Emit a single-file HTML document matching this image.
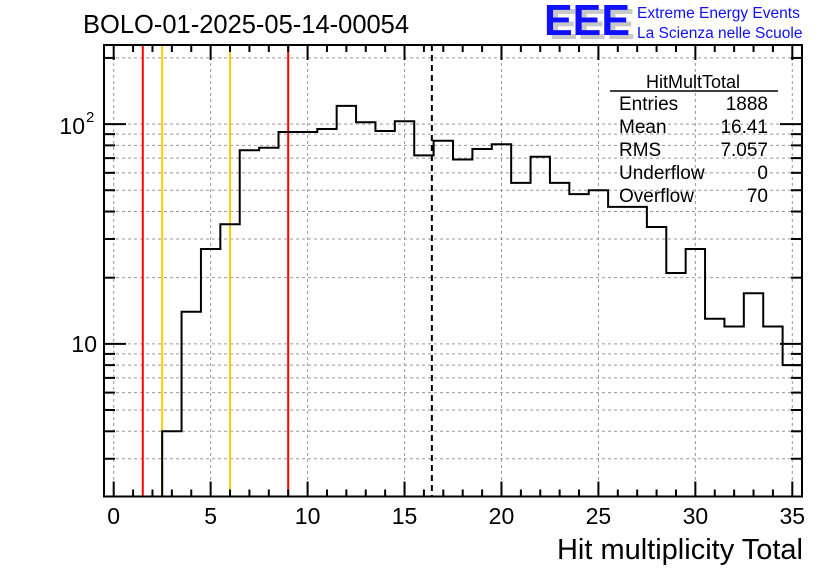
<!DOCTYPE html>
<html><head><meta charset="utf-8"><style>
html,body{margin:0;padding:0;background:#fff;}
svg{display:block;font-family:"Liberation Sans",Arial,sans-serif;}
</style></head><body>
<svg id="chart" width="836" height="572" viewBox="0 0 836 572">
<rect x="0" y="0" width="836" height="572" fill="#fff"/>
<text x="83" y="33" font-size="25.5" fill="#000">BOLO-01-2025-05-14-00054</text>
<g>
<text x="549" y="39" font-size="44" font-weight="bold" fill="#c8c8c8" textLength="86" lengthAdjust="spacingAndGlyphs">EEE</text>
<text x="544" y="35" font-size="44" font-weight="bold" fill="#1010ff" textLength="86" lengthAdjust="spacingAndGlyphs">EEE</text>
<text x="637" y="18" font-size="15.5" fill="#1010ff">Extreme Energy Events</text>
<text x="637" y="38" font-size="15.5" fill="#1010ff">La Scienza nelle Scuole</text>
</g>
<g id="grid"></g>
<g id="marks"></g>
<g id="axes"></g>
<g>
<text x="693" y="88" font-size="18" text-anchor="middle">HitMultTotal</text>
<line x1="610" y1="91" x2="778" y2="91" stroke="#000" stroke-width="1.5"/>
<g font-size="19">
<text x="619" y="110">Entries</text><text x="768" y="110" text-anchor="end">1888</text>
<text x="619" y="133">Mean</text><text x="768" y="133" text-anchor="end">16.41</text>
<text x="619" y="156">RMS</text><text x="768" y="156" text-anchor="end">7.057</text>
<text x="619" y="179">Underflow</text><text x="768" y="179" text-anchor="end">0</text>
<text x="619" y="202">Overflow</text><text x="768" y="202" text-anchor="end">70</text>
</g>
</g>
<text x="803" y="559" font-size="29" text-anchor="end">Hit multiplicity Total</text>
</svg>
<script>
const binCenters = [0,1,2,3,4,5,6,7,8,9,10,11,12,13,14,15,16,17,18,19,20,21,22,23,24,25,26,27,28,29,30,31,32,33,34,35];
const binCounts = [0,0,0,4,14,27,35,76,78,92,92,95,121,102,93,103,72,84,69,77,81,54,71,54,48,50,42,42,34,21,27,13,12,17,12,8];
const xTickValues = [0,5,10,15,20,25,30,35];
const xTickLabels = ["0","5","10","15","20","25","30","35"];
const redLines = [1.5, 9];
const yellowLines = [2.5, 6];
const meanValue = [16.41];

const L=104, R=802, T=45, B=496.5;
const xMin=-0.5, xMax=35.5;
const yLogMin=Math.log10(2.02), yLogMax=Math.log10(229);
function xs(v){return L+(v-xMin)/(xMax-xMin)*(R-L);}
function ys(v){return B-(Math.log10(v)-yLogMin)/(yLogMax-yLogMin)*(B-T);}
const NS="http://www.w3.org/2000/svg";
function mk(tag,attrs,parent){const e=document.createElementNS(NS,tag);for(const k in attrs)e.setAttribute(k,attrs[k]);parent.appendChild(e);return e;}
const grid=document.getElementById('grid'), marks=document.getElementById('marks'), axes=document.getElementById('axes');

const yGridVals=[];
for(const d of [1,10,100]) for(let m=1;m<10;m++){const v=m*d; if(v>=2.02&&v<=229) yGridVals.push(v);}
for(const v of yGridVals){
  const l=mk('line',{x1:L,x2:R,y1:ys(v),y2:ys(v),stroke:'#999','stroke-dasharray':'3,3','stroke-width':1},grid);
  
  
}
for(const v of xTickValues){
  const l=mk('line',{x1:xs(v),x2:xs(v),y1:T,y2:B,stroke:'#999','stroke-dasharray':'3,3','stroke-width':1},grid);
  
  
}
for(const v of redLines){
  const l=mk('line',{x1:xs(v),x2:xs(v),y1:T,y2:B,stroke:'#ff0000','stroke-width':2},marks);
  
  
}
for(const v of yellowLines){
  const l=mk('line',{x1:xs(v),x2:xs(v),y1:T,y2:B,stroke:'#ffcc00','stroke-width':2},marks);
  
  
}
for(const v of meanValue){
  const l=mk('line',{x1:xs(v),x2:xs(v),y1:T,y2:B,stroke:'#000','stroke-width':2,'stroke-dasharray':'6,4'},marks);
  
  
}
let d='';
for(let i=0;i<binCenters.length;i++){
  const c=binCounts[i]; if(c<=0) continue;
  const x0=xs(binCenters[i]-0.5), x1=xs(binCenters[i]+0.5);
  const y=Math.max(T,Math.min(B,ys(c)));
  const prev=i>0?binCounts[i-1]:0;
  const yp=prev>0?Math.max(T,Math.min(B,ys(prev))):B;
  d+=(d===''||prev<=0?`M${x0},${yp}`:'')+`L${x0},${y}L${x1},${y}`;
}
const hist=mk('path',{d:d,fill:'none',stroke:'#000','stroke-width':2},marks);



const fr=mk('rect',{x:L,y:T,width:R-L,height:B-T,fill:'none',stroke:'#000','stroke-width':2},axes);


for(let v=0;v<=35;v++){
  const major=v%5===0, len=major?15:7;
  mk('line',{x1:xs(v),x2:xs(v),y1:B,y2:B-len,stroke:'#000','stroke-width':2},axes);
  mk('line',{x1:xs(v),x2:xs(v),y1:T,y2:T+len,stroke:'#000','stroke-width':2},axes);
}
xTickValues.forEach((v,i)=>{
  const t=mk('text',{x:xs(v),y:524,'font-size':23,'text-anchor':'middle'},axes);
  t.textContent=xTickLabels[i];
  
  
});
for(const v of yGridVals){
  const major=(v===10||v===100), len=major?22:11;
  mk('line',{x1:L,x2:L+len,y1:ys(v),y2:ys(v),stroke:'#000','stroke-width':2},axes);
  mk('line',{x1:R,x2:R-len,y1:ys(v),y2:ys(v),stroke:'#000','stroke-width':2},axes);
}
const t10=mk('text',{x:97,y:ys(10)+8,'font-size':23,'text-anchor':'end'},axes);
t10.textContent='10';


const t100=mk('text',{x:85,y:ys(100)+10,'font-size':23,'text-anchor':'end'},axes);
t100.textContent='10';


const sup=mk('text',{x:86,y:ys(100)-2,'font-size':15},axes);
sup.textContent='2';


</script>
</body></html>
